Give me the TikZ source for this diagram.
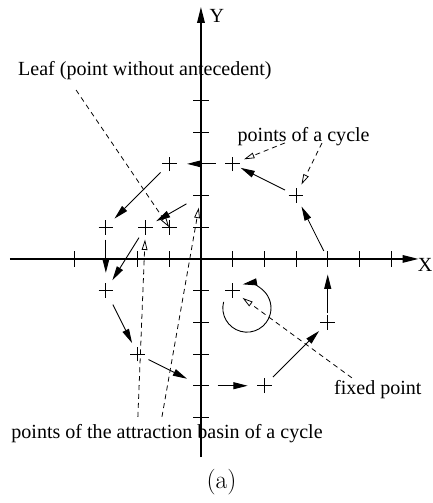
\documentclass[tikz,border=0pt]{standalone}
\usepackage{fontspec}
\newfontfamily\figfont{Liberation Serif}
\usetikzlibrary{arrows.meta}

\begin{document}
\begin{tikzpicture}[
        axis/.style={line width=1pt, -{Triangle[length=0.5cm, width=0.24cm]}},
        tick/.style={line width=0.8pt},
        flow/.style={line width=0.8pt, -{Triangle[length=0.45cm, width=0.22cm]}},
        note/.style={line width=0.7pt, dash pattern=on 4.5pt off 3.5pt,
          -{Triangle[open, length=0.33cm, width=0.18cm]}},
        spot/.style={circle, inner sep=0pt, minimum size=0.76cm},
        pt/.style={spot, path picture={
            \draw[line width=0.8pt]
              ([xshift=-0.23cm]path picture bounding box.center) --
              ([xshift=0.23cm]path picture bounding box.center)
              ([yshift=-0.23cm]path picture bounding box.center) --
              ([yshift=0.23cm]path picture bounding box.center);}},
        lbl/.style={inner sep=0pt, font={\figfont\fontsize{18}{21}\selectfont}},
      ]
      \useasboundingbox (-6.34, -7.70) rectangle (7.32, 8.17);

      % axes
      \coordinate (xmin) at (-6.03, 0);
      \coordinate (xmax) at (6.86, 0);
      \coordinate (ymin) at (0, -6.25);
      \coordinate (ymax) at (0, 7.95);
      \draw[axis] (xmin) -- (xmax);
      \draw[axis] (ymin) -- (ymax);
      \foreach \i in {-4, -3, -2, -1, 1, 2, 3, 4, 5, 6}
        \draw[tick] (\i, -0.24) -- (\i, 0.24);
      \foreach \j in {-5, -4, -3, -2, -1, 1, 2, 3, 4, 5}
        \draw[tick] (-0.25, \j) -- (0.25, \j);
      \node[lbl, anchor=east] (xlab) at (7.31, -0.19) {X};
      \node[lbl] (ylab) at (0.5, 7.67) {Y};

      % points
      \node[spot] (c1) at (4, 0) {};
      \node[pt] (c2) at (3, 2) {};
      \node[pt] (c3) at (1, 3) {};
      \node[pt] (c4) at (-1, 3) {};
      \node[pt] (c5) at (-3, 1) {};
      \node[pt] (c6) at (-3, -1) {};
      \node[pt] (c7) at (-2, -3) {};
      \node[spot] (c8) at (0, -4) {};
      \node[pt] (c9) at (2, -4) {};
      \node[pt] (c10) at (4, -2) {};
      \node[pt] (fix) at (1, -1) {};
      \node[pt] (leaf) at (-1, 1) {};
      \node[pt] (b1) at (-1.75, 1) {};
      \node[spot] (b2) at (0, 2) {};

      % the cycle and its basin
      \draw[flow, shorten <=-3pt] (c1) -- (c2);
      \draw[flow, shorten >=-3pt] (c2) -- (c3);
      \draw[flow, shorten <=4pt, shorten >=5pt] (c3) -- (c4);
      \draw[flow] (c4) -- (c5);
      \draw[flow, shorten >=5pt] (c5) -- (c6);
      \draw[flow, shorten <=3pt] (c6) -- (c7);
      \draw[flow, shorten >=3pt] (c7) -- (c8);
      \draw[flow, shorten <=4pt, shorten >=4pt] (c8) -- (c9);
      \draw[flow] (c9) -- (c10);
      \draw[flow, shorten <=-3pt, shorten >=3pt] (c10) -- (c1);
      \draw[flow, shorten <=4pt] (b2) -- (b1);
      \draw[flow] (b1) -- (c6);
      \coordinate (loop) at (1.45, -1.55);
      \draw[flow] ([shift={(165:0.76)}]loop) arc[start angle=165, end angle=460, radius=0.76];

      % labels
      \node[lbl] (leaftxt) at (-1.77, 5.93) {Leaf (point without antecedent)};
      \node[lbl] (cyctxt) at (3.24, 3.85) {points of a cycle};
      \node[lbl] (basintxt) at (-1.07, -5.52) {points of the attraction basin of a cycle};
      \node[lbl] (fixtxt) at (5.58, -4.13) {fixed point};
      \node[font=\fontsize{23}{27}\selectfont] (cap) at (0.65, -7.03) {(a)};

      \coordinate (l0) at (-3.94, 5.33);
      \coordinate (k1) at (2.65, 3.66);
      \coordinate (k2) at (3.82, 3.66);
      \coordinate (s1) at (-1.99, -4.98);
      \coordinate (s2) at (-1.23, -4.98);
      \coordinate (f0) at (4.76, -3.75);
      \draw[note] (l0) -- (leaf.center);
      \draw[note] (k1) -- (c3);
      \draw[note] (k2) -- (c2);
      \draw[note] (s1) -- (b1);
      \draw[note] (s2) -- (b2);
      \draw[note] (f0) -- (fix);

    \end{tikzpicture}
\end{document}
